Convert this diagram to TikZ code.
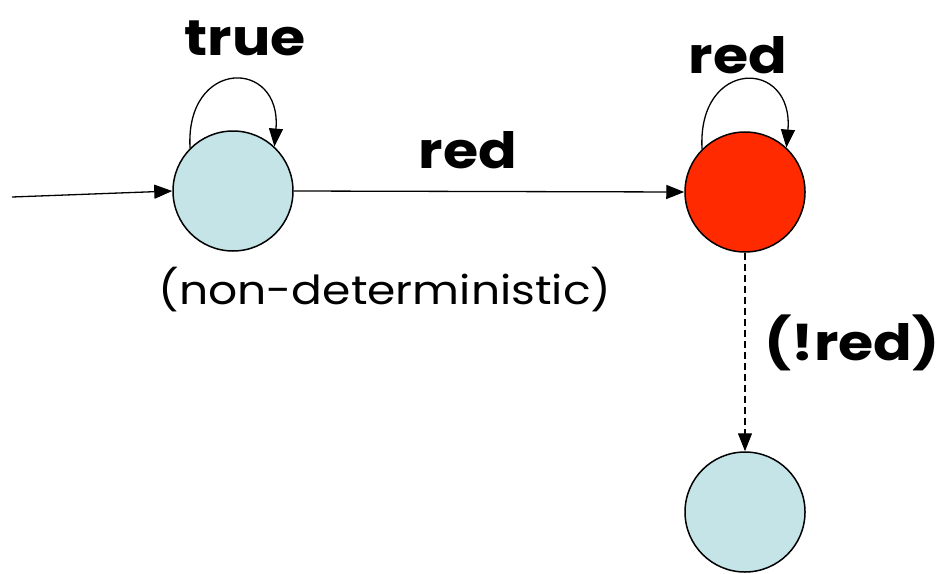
\documentclass[tikz,border=0pt]{standalone}
\usepackage{fontspec}
\setmainfont{Poppins}[FakeStretch=1.14]
\usetikzlibrary{arrows.meta}
\definecolor{stateblue}{HTML}{C4E4E8}
\definecolor{statered}{HTML}{FF2A00}
\begin{document}
\begin{tikzpicture}[x=1pt,y=-1pt,
  state/.style={circle,draw=black,line width=1.5pt,minimum size=120pt,inner sep=0pt},
  edge/.style={line width=1.3pt,-{Triangle[length=18pt,width=14pt]}},
  lbl/.style={font=\fontsize{50}{50}\selectfont\bfseries,inner sep=0pt},
  note/.style={font=\fontsize{40}{40}\selectfont,inner sep=0pt}]
  \useasboundingbox (0,0) rectangle (941,573);
  % states
  \node[state,fill=stateblue] (s0) at (233,191) {};
  \node[state,fill=statered] (s1) at (745,192) {};
  \node[state,fill=stateblue] (s2) at (745,512) {};
  \coordinate (init) at (12,197);
  % transitions
  \draw[edge] (init) -- (s0.west);
  \draw[edge] (s0.east) -- (s1.west);
  \draw[edge] (s0.135) .. controls (185,58) and (282,58) .. (s0.47);
  \draw[edge] (s1.135) .. controls (697,58) and (794,58) .. (s1.47);
  \draw[edge,dashed,dash pattern=on 7pt off 4pt] (s1.south) -- (s2.north);
  % labels
  \node[lbl] (ltrue) at (245,38) {true};
  \node[lbl] (lred0) at (468,150) {red};
  \node[lbl] (lred1) at (738,55) {red};
  \node[lbl] (lnred) at (852,343) {(!red)};
  \node[note] (lnd) at (385,290) {(non-deterministic)};
\end{tikzpicture}
\end{document}
